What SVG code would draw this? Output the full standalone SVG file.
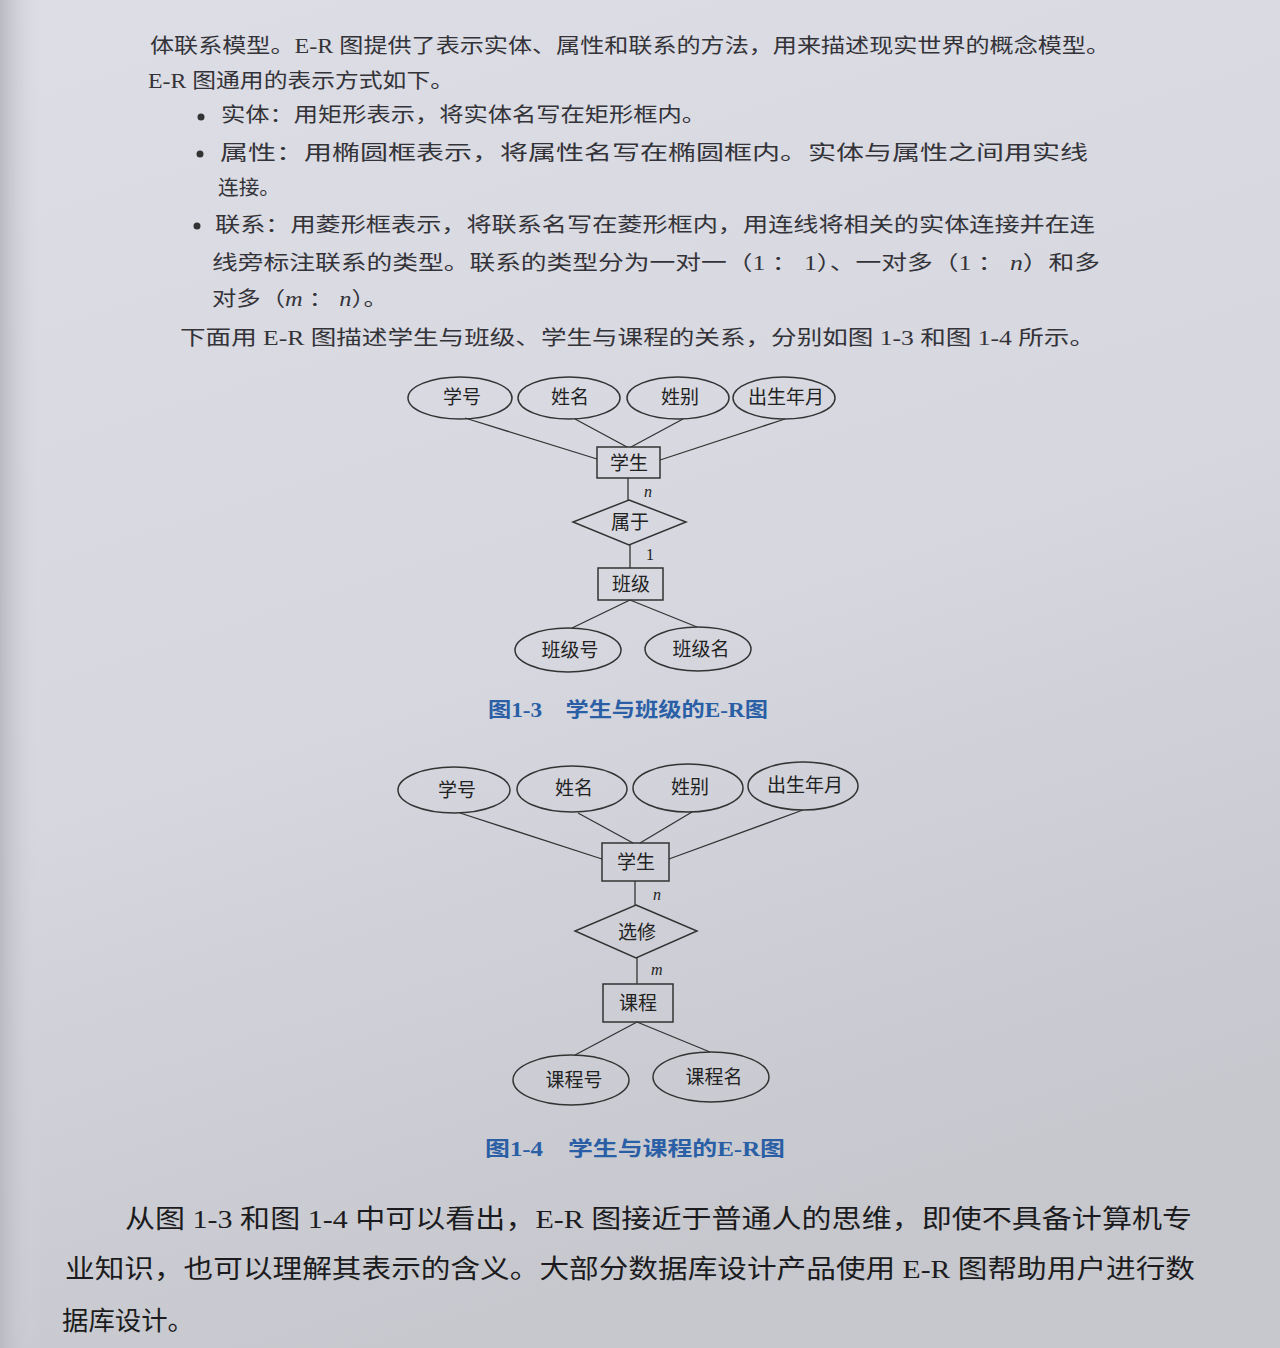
<svg xmlns="http://www.w3.org/2000/svg" width="1280" height="1348" viewBox="0 0 1280 1348">
<defs>
<linearGradient id="bg" x1="0" y1="0" x2="0.3" y2="1">
<stop offset="0" stop-color="#dddde6"/>
<stop offset="0.55" stop-color="#d6d7df"/>
<stop offset="1" stop-color="#c7c8ce"/>
</linearGradient>
<linearGradient id="edge" x1="0" y1="0" x2="1" y2="0">
<stop offset="0" stop-color="#b9bac2"/>
<stop offset="1" stop-color="#d6d7df" stop-opacity="0"/>
</linearGradient>
<style>
.body{font-family:"Liberation Serif","Noto Sans CJK SC",serif;fill:#333338;font-size:20px}
.body2{font-family:"Liberation Serif","Noto Sans CJK SC",serif;fill:#1c1c20;font-size:26px}
.lbl{font-family:"Liberation Serif","Noto Sans CJK SC",serif;fill:#222;font-size:19px;text-anchor:middle;dominant-baseline:central}
.card{font-family:"Liberation Serif",serif;font-style:italic;font-size:16px;fill:#222}
.num{font-family:"Liberation Serif",serif;font-size:16px;fill:#222}
.cap{font-family:"Liberation Serif","Noto Sans CJK SC",serif;fill:#2a5fa6;font-size:20px;font-weight:bold}
.shape{fill:none;stroke:#333;stroke-width:1.5}
.conn line{stroke:#333;stroke-width:1.3}
</style>
</defs>
<rect width="1280" height="1348" fill="url(#bg)"/>
<rect width="40" height="1348" fill="url(#edge)"/>

<g id="text-top">
<text class="body" x="150" y="53" textLength="960" lengthAdjust="spacingAndGlyphs">体联系模型。E-R 图提供了表示实体、属性和联系的方法，用来描述现实世界的概念模型。</text>
<text class="body" x="148" y="88" textLength="306" lengthAdjust="spacingAndGlyphs">E-R 图通用的表示方式如下。</text>
<circle cx="201" cy="117" r="3.5" fill="#333"/>
<text class="body" x="221" y="122" textLength="485" lengthAdjust="spacingAndGlyphs">实体：用矩形表示，将实体名写在矩形框内。</text>
<circle cx="200" cy="154" r="3.5" fill="#333"/>
<text class="body" x="220" y="160" textLength="868" lengthAdjust="spacingAndGlyphs">属性：用椭圆框表示，将属性名写在椭圆框内。实体与属性之间用实线</text>
<text class="body" x="218" y="195" textLength="62" lengthAdjust="spacingAndGlyphs">连接。</text>
<circle cx="197" cy="226" r="3.5" fill="#333"/>
<text class="body" x="215" y="232" textLength="880" lengthAdjust="spacingAndGlyphs">联系：用菱形框表示，将联系名写在菱形框内，用连线将相关的实体连接并在连</text>
<text class="body" x="212" y="270" textLength="888" lengthAdjust="spacingAndGlyphs">线旁标注联系的类型。联系的类型分为一对一（1 ： 1）、一对多（1 ： <tspan font-style="italic">n</tspan>）和多</text>
<text class="body" x="212" y="306" textLength="176" lengthAdjust="spacingAndGlyphs">对多（<tspan font-style="italic">m</tspan> ： <tspan font-style="italic">n</tspan>）。</text>
<text class="body" x="180" y="345" textLength="915" lengthAdjust="spacingAndGlyphs">下面用 E-R 图描述学生与班级、学生与课程的关系，分别如图 1-3 和图 1-4 所示。</text>
</g>

<g id="connectors" class="conn">
<line x1="465" y1="418" x2="597" y2="459"/>
<line x1="575" y1="419" x2="627" y2="447"/>
<line x1="683" y1="419" x2="631" y2="447"/>
<line x1="785" y1="419" x2="660" y2="460"/>
<line x1="628" y1="478" x2="628" y2="500"/>
<line x1="630" y1="545" x2="630" y2="568"/>
<line x1="630" y1="600" x2="572" y2="628"/>
<line x1="630" y1="600" x2="697" y2="627"/>
<line x1="460" y1="813" x2="602" y2="859"/>
<line x1="578" y1="813" x2="633" y2="843"/>
<line x1="692" y1="812" x2="640" y2="843"/>
<line x1="803" y1="810" x2="669" y2="859"/>
<line x1="635" y1="881" x2="635" y2="905"/>
<line x1="637" y1="958" x2="637" y2="984"/>
<line x1="637" y1="1022" x2="575" y2="1055"/>
<line x1="637" y1="1022" x2="710" y2="1052"/>
</g>

<g id="a1-xuehao"><ellipse class="shape" cx="460" cy="398" rx="52" ry="21"/><text class="lbl" x="462" y="397">学号</text></g>
<g id="a1-xingming"><ellipse class="shape" cx="569" cy="398" rx="51" ry="21"/><text class="lbl" x="570" y="397">姓名</text></g>
<g id="a1-xingbie"><ellipse class="shape" cx="678" cy="398" rx="51" ry="21"/><text class="lbl" x="680" y="397">姓别</text></g>
<g id="a1-chusheng"><ellipse class="shape" cx="784" cy="398" rx="51" ry="21"/><text class="lbl" x="786" y="397">出生年月</text></g>
<g id="e1-xuesheng"><rect class="shape" x="597" y="447" width="63" height="31"/><text class="lbl" x="629" y="463">学生</text></g>
<text class="card" x="644" y="497">n</text>
<g id="r1-shuyu"><polygon class="shape" points="629,500 686,522 629,545 573,522"/><text class="lbl" x="630" y="522">属于</text></g>
<text class="num" x="646" y="560">1</text>
<g id="e1-banji"><rect class="shape" x="598" y="568" width="65" height="32"/><text class="lbl" x="631" y="584">班级</text></g>
<g id="a1-banjihao"><ellipse class="shape" cx="568" cy="650" rx="53" ry="22"/><text class="lbl" x="570" y="650">班级号</text></g>
<g id="a1-banjiming"><ellipse class="shape" cx="698" cy="649" rx="53" ry="22"/><text class="lbl" x="701" y="649">班级名</text></g>
<text id="cap1" class="cap" x="488" y="717" textLength="280" lengthAdjust="spacingAndGlyphs">图1-3　学生与班级的E-R图</text>

<g id="a2-xuehao"><ellipse class="shape" cx="454" cy="790" rx="56" ry="23"/><text class="lbl" x="457" y="790" font-size="20">学号</text></g>
<g id="a2-xingming"><ellipse class="shape" cx="572" cy="789" rx="55" ry="23"/><text class="lbl" x="574" y="788">姓名</text></g>
<g id="a2-xingbie"><ellipse class="shape" cx="688" cy="788" rx="55" ry="24"/><text class="lbl" x="690" y="787">姓别</text></g>
<g id="a2-chusheng"><ellipse class="shape" cx="803" cy="786" rx="55" ry="24"/><text class="lbl" x="805" y="785">出生年月</text></g>
<g id="e2-xuesheng"><rect class="shape" x="602" y="843" width="67" height="38"/><text class="lbl" x="636" y="862">学生</text></g>
<text class="card" x="653" y="900">n</text>
<g id="r2-xuanxiu"><polygon class="shape" points="636,905 697,931 636,958 575,931"/><text class="lbl" x="637" y="932">选修</text></g>
<text class="card" x="651" y="975">m</text>
<g id="e2-kecheng"><rect class="shape" x="603" y="984" width="70" height="38"/><text class="lbl" x="638" y="1003">课程</text></g>
<g id="a2-kechenghao"><ellipse class="shape" cx="571" cy="1080" rx="58" ry="25"/><text class="lbl" x="574" y="1080">课程号</text></g>
<g id="a2-kechengming"><ellipse class="shape" cx="711" cy="1077" rx="58" ry="25"/><text class="lbl" x="714" y="1077">课程名</text></g>
<text id="cap2" class="cap" x="485" y="1156" textLength="300" lengthAdjust="spacingAndGlyphs">图1-4　学生与课程的E-R图</text>

<g id="text-bottom">
<text class="body2" x="125" y="1228" textLength="1067" lengthAdjust="spacingAndGlyphs">从图 1-3 和图 1-4 中可以看出，E-R 图接近于普通人的思维，即使不具备计算机专</text>
<text class="body2" x="65" y="1278" textLength="1130" lengthAdjust="spacingAndGlyphs">业知识，也可以理解其表示的含义。大部分数据库设计产品使用 E-R 图帮助用户进行数</text>
<text class="body2" x="62" y="1330" textLength="132" lengthAdjust="spacingAndGlyphs">据库设计。</text>
</g>
</svg>
